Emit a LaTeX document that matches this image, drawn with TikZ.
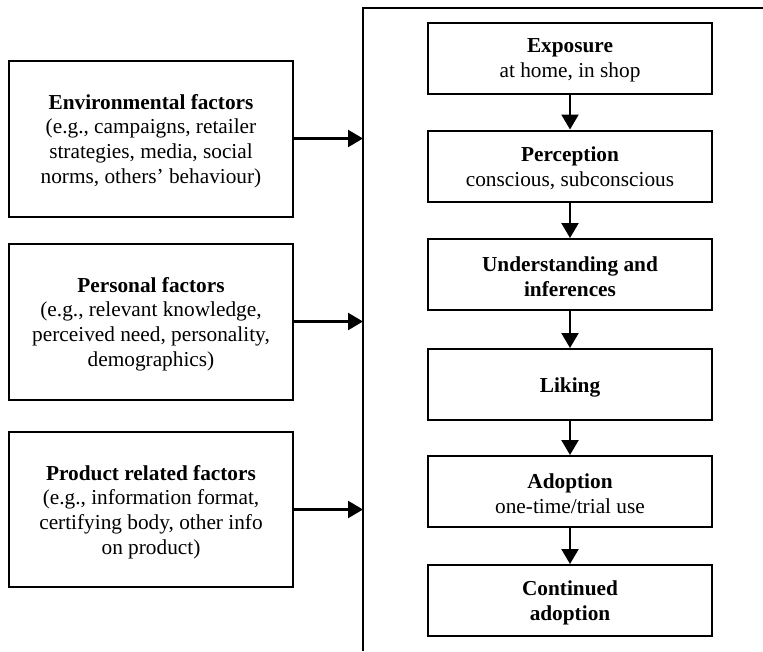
\documentclass[tikz,border=0pt]{standalone}
\usepackage{fontspec}
\setmainfont{Liberation Serif}
\usetikzlibrary{arrows.meta}
\begin{document}
\begin{tikzpicture}[x=1pt,y=-1pt,
  every node/.style={font=\fontsize{21.3}{24.6}\selectfont},
  factor/.style={draw, line width=2pt, minimum width=284pt, minimum height=156pt, inner sep=0pt},
  stage/.style={draw, line width=2pt, minimum width=284pt, minimum height=71pt, inner sep=0pt},
  boxtext/.style={align=center, inner sep=0pt, yshift=-2.5pt},
  arr/.style={line width=2.3pt, -{Triangle[length=15pt,width=17pt]}},
  frame/.style={line width=2.2pt}]
\useasboundingbox (0,0) rectangle (763,651);

% frame around the adoption process
\coordinate (ftop) at (363,8);
\coordinate (fbot) at (363,651);
\coordinate (fright) at (763,8);
\draw[frame] (fbot) -- (ftop) -- (fright);

% influencing factors
\node[factor] (env) at (151,138.5) {};
\node[boxtext] (env-t) at (env) {\textbf{Environmental factors}\\(e.g., campaigns, retailer\\strategies, media, social\\norms, others’ behaviour)};
\node[factor] (pers) at (151,321.5) {};
\node[boxtext] (pers-t) at (pers) {\textbf{Personal factors}\\(e.g., relevant knowledge,\\perceived need, personality,\\demographics)};
\node[factor, minimum height=155pt] (prod) at (151,509.5) {};
\node[boxtext] (prod-t) at (prod) {\textbf{Product related factors}\\(e.g., information format,\\certifying body, other info\\on product)};

% process stages
\node[stage] (expo) at (570,58) {};
\node[boxtext] (expo-t) at (expo) {\textbf{Exposure}\\at home, in shop};
\node[stage] (perc) at (570,166) {};
\node[boxtext] (perc-t) at (perc) {\textbf{Perception}\\conscious, subconscious};
\node[stage] (und) at (570,274.5) {};
\node[boxtext] (und-t) at (und) {\textbf{Understanding and}\\\textbf{inferences}};
\node[stage] (lik) at (570,384.5) {};
\node[boxtext] (lik-t) at (lik) {\textbf{Liking}};
\node[stage] (adop) at (570,491.5) {};
\node[boxtext] (adop-t) at (adop) {\textbf{Adoption}\\one-time/trial use};
\node[stage] (cont) at (570,600.5) {};
\node[boxtext] (cont-t) at (cont) {\textbf{Continued}\\\textbf{adoption}};

% factors feed into the process
\draw[arr] (env.east) -- (env.east -| ftop);
\draw[arr] (pers.east) -- (pers.east -| ftop);
\draw[arr] (prod.east) -- (prod.east -| ftop);

% stage sequence
\draw[arr] (expo) -- (perc);
\draw[arr] (perc) -- (und);
\draw[arr] (und) -- (lik);
\draw[arr] (lik) -- (adop);
\draw[arr] (adop) -- (cont);
\end{tikzpicture}
\end{document}
